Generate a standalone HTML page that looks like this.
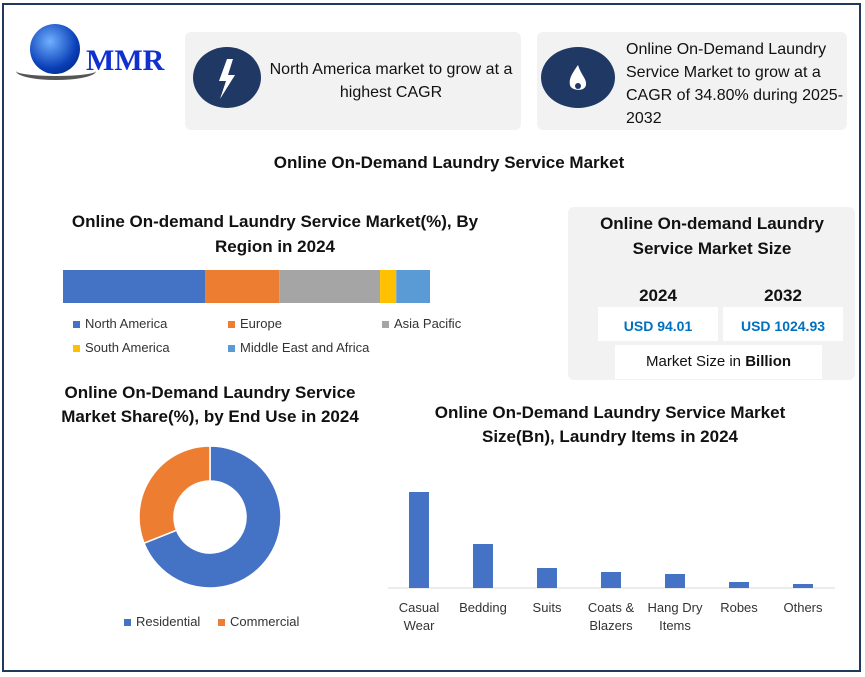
<!DOCTYPE html>
<html><head><meta charset="utf-8">
<style>
body{margin:0;width:865px;height:677px;background:#fff;font-family:"Liberation Sans","DejaVu Sans",sans-serif;position:relative;overflow:hidden}
.a{position:absolute}
.frame{left:2px;top:3px;width:855px;height:665px;border:2px solid #1f3a5c}
.card{background:#f2f2f2;border-radius:6px}
.circ{background:#1f3864;border-radius:50%}
.t{font-weight:bold;color:#111;text-align:center}
.lg{font-size:13px;color:#333}
.sw{display:inline-block;width:7px;height:7px;margin-right:5px;vertical-align:middle}
</style></head><body>
<div class="a frame"></div>
<div class="a" style="left:16px;top:22px;width:160px;height:62px">
<div class="a" style="left:14px;top:2px;width:50px;height:50px;border-radius:50%;background:radial-gradient(circle at 40% 35%,#6fb0ff,#0a3fb8 60%,#021a60)"></div>
<div class="a" style="left:0;top:40px;width:80px;height:14px;border-radius:50%;border-bottom:4px solid #555"></div>
<div class="a" style="left:70px;top:22px;font-family:'Liberation Serif',serif;font-weight:bold;font-size:30px;color:#1030d0">MMR</div>
</div>
<div class="a card" style="left:185px;top:32px;width:336px;height:98px"></div>
<div class="a circ" style="left:193px;top:47px;width:68px;height:61px"><svg width="68" height="61"><path d="M34 12 L26 34 L33 34 L27 52 L42 28 L35 28 L40 12Z" fill="#fff"/></svg></div>
<div class="a" style="left:263px;top:58px;width:256px;text-align:center;font-size:16px;line-height:23px;color:#111">North America market to grow at a highest CAGR</div>
<div class="a card" style="left:537px;top:32px;width:310px;height:98px"></div>
<div class="a circ" style="left:541px;top:47px;width:74px;height:61px"><svg width="74" height="61"><path d="M37 18 C30 28 28 32 29 38 C30 44 44 45 45 38 C46 32 40 28 37 18Z" fill="#fff"/><circle cx="37" cy="39" r="3" fill="#1f3864"/></svg></div>
<div class="a" style="left:626px;top:38px;width:220px;font-size:16px;line-height:23px;color:#111">Online On-Demand Laundry Service Market to grow at a CAGR of 34.80% during 2025-2032</div>
<div class="a t" style="left:0;top:153px;width:898px;font-size:17px">Online On-Demand Laundry Service Market</div>
<div class="a t" style="left:50px;top:209px;width:450px;font-size:17px;line-height:25px">Online On-demand Laundry Service Market(%), By Region in 2024</div>
<svg class="a" style="left:0;top:0" width="865" height="677" id="svg"></svg>
<div class="a lg" style="left:73px;top:316px"><span class="sw" style="background:#4472c4"></span>North America</div>
<div class="a lg" style="left:228px;top:316px"><span class="sw" style="background:#ed7d31"></span>Europe</div>
<div class="a lg" style="left:382px;top:316px"><span class="sw" style="background:#a5a5a5"></span>Asia Pacific</div>
<div class="a lg" style="left:73px;top:340px"><span class="sw" style="background:#ffc000"></span>South America</div>
<div class="a lg" style="left:228px;top:340px"><span class="sw" style="background:#5b9bd5"></span>Middle East and Africa</div>
<div class="a card" style="left:568px;top:207px;width:287px;height:173px"></div>
<div class="a t" style="left:578px;top:211px;width:268px;font-size:17px;line-height:25px">Online On-demand Laundry Service Market Size</div>
<div class="a t" style="left:598px;top:286px;width:120px;font-size:17px">2024</div>
<div class="a t" style="left:723px;top:286px;width:120px;font-size:17px">2032</div>
<div class="a" style="left:598px;top:307px;width:120px;height:34px;background:#fff;color:#0070c0;font-weight:bold;font-size:14px;text-align:center;line-height:38px">USD 94.01</div>
<div class="a" style="left:723px;top:307px;width:120px;height:34px;background:#fff;color:#0070c0;font-weight:bold;font-size:14px;text-align:center;line-height:38px">USD 1024.93</div>
<div class="a" style="left:615px;top:345px;width:207px;height:34px;background:#fff;font-size:15px;line-height:34px;text-align:center;color:#111">Market Size in <b>Billion</b></div>
<div class="a t" style="left:40px;top:381px;width:340px;font-size:17px;line-height:24px">Online On-Demand Laundry Service Market Share(%), by End Use in 2024</div>
<div class="a lg" style="left:124px;top:614px"><span class="sw" style="background:#4472c4"></span>Residential</div>
<div class="a lg" style="left:218px;top:614px"><span class="sw" style="background:#ed7d31"></span>Commercial</div>
<div class="a t" style="left:400px;top:401px;width:420px;font-size:17px;line-height:24px">Online On-Demand Laundry Service Market Size(Bn), Laundry Items in 2024</div>
<script>
const regions=["North America","Europe","Asia Pacific","South America","Middle East and Africa"];
const regionShare=[38.7,20.2,27.5,4.4,9.2];
const regionColors=["#4472c4","#ed7d31","#a5a5a5","#ffc000","#5b9bd5"];
const endUses=["Residential","Commercial"];
const endUseShare=[69,31];
const items=["Casual\nWear","Bedding","Suits","Coats &\nBlazers","Hang Dry\nItems","Robes","Others"];
const itemValues=[48,22,10,8,7,3,2];
const svg=document.getElementById('svg');
const NS="http://www.w3.org/2000/svg";
function mk(t,a){const e=document.createElementNS(NS,t);for(const k in a)e.setAttribute(k,a[k]);svg.appendChild(e);return e;}
// stacked bar
const sx=v=>v/regionShare.reduce((a,b)=>a+b,0)*367;
let acc=0;
regionShare.forEach((v,i)=>{const r=mk('rect',{x:63+sx(acc),y:270,width:sx(v),height:33,fill:regionColors[i]});

acc+=v;});
// donut
const cx=210,cy=517,R=71,r0=36;let ang=0;const tot=endUseShare.reduce((a,b)=>a+b,0);
const dc=["#4472c4","#ed7d31"];
endUseShare.forEach((v,i)=>{const a0=ang,a1=ang+v/tot*2*Math.PI;ang=a1;
const p=(a,rr)=>[cx+rr*Math.sin(a),cy-rr*Math.cos(a)];const L=(a1-a0)>Math.PI?1:0;
const [x0,y0]=p(a0,R),[x1,y1]=p(a1,R),[x2,y2]=p(a1,r0),[x3,y3]=p(a0,r0);
const e=mk('path',{d:`M${x0} ${y0}A${R} ${R} 0 ${L} 1 ${x1} ${y1}L${x2} ${y2}A${r0} ${r0} 0 ${L} 0 ${x3} ${y3}Z`,fill:dc[i],stroke:'#fff','stroke-width':1.5});

});
// bar chart
const base=588,yMax=48,hMax=96;const ys=v=>v/yMax*hMax;
const ax=mk('line',{x1:388,y1:base,x2:835,y2:base,stroke:'#d9d9d9'});


items.forEach((c,i)=>{const x=409+i*64;
const b=mk('rect',{x:x,y:base-ys(itemValues[i]),width:20,height:ys(itemValues[i]),fill:'#4472c4'});


c.split('\n').forEach((l,j)=>{const t=mk('text',{x:x+10,y:612+j*18,'text-anchor':'middle','font-size':13,fill:'#333'});t.textContent=l;

});});
</script>
</body></html>
